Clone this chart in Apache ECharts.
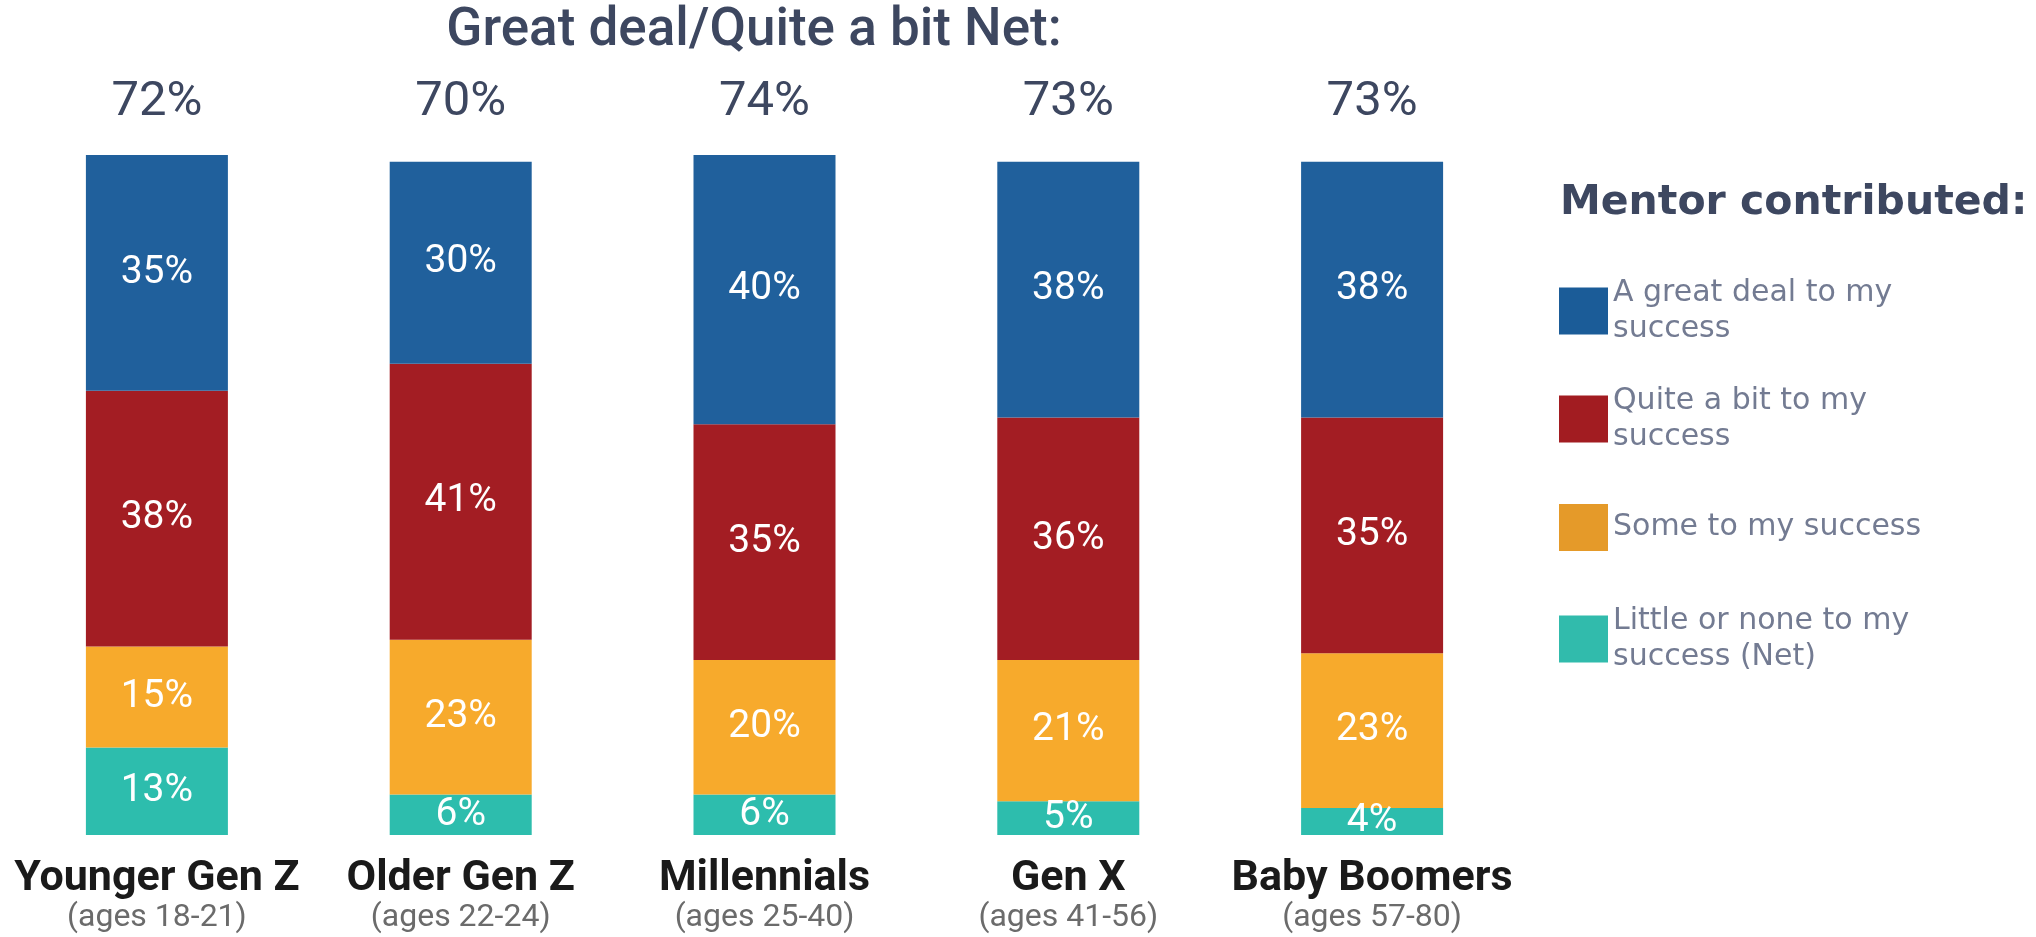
<!DOCTYPE html>
<html>
<head>
<meta charset="utf-8">
<title>Mentor contributed</title>
<script src="https://cdn.jsdelivr.net/npm/echarts@6/dist/echarts.min.js"></script>
<style>
  html, body { margin: 0; padding: 0; background: #fff; }
  #chart { width: 2036px; height: 937px; }
</style>
</head>
<body>
<div id="chart"></div>
<script>
// data
const generations = ['Younger Gen Z', 'Older Gen Z', 'Millennials', 'Gen X', 'Baby Boomers']
const ageRanges = ['(ages 18-21)', '(ages 22-24)', '(ages 25-40)', '(ages 41-56)', '(ages 57-80)']
const netValues = [72, 70, 74, 73, 73]
const greatDeal = [35, 30, 40, 38, 38]
const quiteABit = [38, 41, 35, 36, 35]
const some = [15, 23, 20, 21, 23]
const littleOrNone = [13, 6, 6, 5, 4]
const seriesNames = ['A great deal to my success', 'Quite a bit to my success', 'Some to my success', 'Little or none to my success (Net)']
const legendLabels = ['A great deal to my\nsuccess', 'Quite a bit to my\nsuccess', 'Some to my success', 'Little or none to my\nsuccess (Net)']

const barColors = ['#20609c', '#a31d23', '#f7aa2c', '#2dbdad']
const legendColors = ['#1b5c98', '#a21c21', '#e59a29', '#31bbac']
const legendCenters = [306, 414, 523, 634]
const FONT = 'Roboto, "Open Sans", sans-serif'
const WIDE = '"DejaVu Sans", sans-serif'

const chart = echarts.init(document.getElementById('chart'))

const stacks = [greatDeal, quiteABit, some, littleOrNone]
// stack from the bottom up: little/none first, great deal on top
const series = []
for (let i = stacks.length - 1; i >= 0; i--) {
  series.push({
    name: seriesNames[i],
    type: 'bar',
    stack: 'total',
    barWidth: 142,
    itemStyle: { color: barColors[i] },
    label: {
      show: true,
      position: 'inside',
      color: '#fff',
      fontSize: 39,
      fontFamily: FONT,
      formatter: p => p.value + '%'
    },
    data: stacks[i]
  })
}

// two-line legend texts sit a little below the square's middle, one-liners a little above
const legends = seriesNames.map((name, i) => {
  const twoLines = legendLabels[i].indexOf('\n') >= 0
  return {
    left: 1554,
    top: legendCenters[i] - (twoLines ? 45 : 24),
    orient: 'vertical',
    selectedMode: false,
    itemWidth: 49,
    itemHeight: 47,
    itemGap: 12,
    icon: 'rect',
    data: [{ name: name, itemStyle: { color: legendColors[i] } }],
    formatter: () => legendLabels[i],
    textStyle: {
      fontFamily: WIDE,
      fontSize: 30,
      lineHeight: 36,
      padding: twoLines ? [18, 0, 0, 0] : [0, 0, 8, 0],
      color: '#737b92'
    }
  }
})

chart.setOption({
  backgroundColor: '#fff',
  animation: false,
  title: [{
    text: 'Great deal/Quite a bit Net:',
    left: 749,
    top: 0,
    textAlign: 'center',
    textStyle: { fontFamily: FONT, fontSize: 53, fontWeight: 500, color: '#3d4760' }
  }, {
    text: 'Mentor contributed:',
    left: 1555,
    top: 178,
    textStyle: { fontFamily: WIDE, fontSize: 41, fontWeight: 'bold', color: '#3d4760' }
  }],
  legend: legends,
  grid: {
    left: 5,
    top: 155,
    width: 1519,
    bottom: 102,
    outerBoundsMode: 'none'
  },
  xAxis: [{
    type: 'category',
    data: generations,
    axisLine: { show: false },
    axisTick: { show: false },
    axisLabel: {
      interval: 0,
      margin: 23,
      formatter: (v, i) => '{b|' + v + '}\n{s|' + ageRanges[i] + '}',
      rich: {
        b: { fontFamily: FONT, fontSize: 43, fontWeight: 'bold', color: '#1a1a1a', lineHeight: 43 },
        s: { fontFamily: FONT, fontSize: 32, color: '#6b6b6b', lineHeight: 34 }
      }
    }
  }, {
    type: 'category',
    position: 'top',
    data: netValues.map(v => v + '%'),
    axisLine: { show: false },
    axisTick: { show: false },
    axisLabel: {
      interval: 0,
      margin: 28,
      fontFamily: FONT,
      fontSize: 49,
      color: '#3d4760'
    }
  }],
  yAxis: {
    type: 'value',
    min: 0,
    max: 101,
    show: false
  },
  series: series
})
</script>
</body>
</html>
